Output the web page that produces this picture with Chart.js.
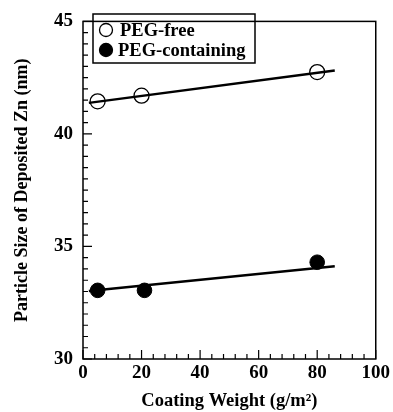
<!DOCTYPE html>
<html>
<head>
<meta charset="utf-8">
<script src="https://cdn.jsdelivr.net/npm/chart.js@4.4.1/dist/chart.umd.min.js"></script>
<style>
  html, body { margin: 0; padding: 0; background: #fff; }
  #wrap { width: 393px; height: 412px; position: relative; }
</style>
</head>
<body>
<div id="wrap"><canvas id="zincChart" width="393" height="412"></canvas></div>
<script>
// values
const coatingWeight = [5, 20, 80];
const coatingWeightB = [5, 21, 80];
const pegFree = [41.45, 41.7, 42.75];
const pegContaining = [33.05, 33.05, 34.3];

// straight fit lines as drawn in the figure (end points)
const fitX = [2, 86];
const pegFreeFit = [41.38, 42.82];
const pegContainingFit = [33.02, 34.12];

const seriesNames = ["PEG-free", "PEG-containing"];
const xTitle = "Coating Weight (g/m\u00B2)";
const yTitle = "Particle Size of Deposited Zn (nm)";

const serif = "'Liberation Serif', 'DejaVu Serif', serif";

function toPoints(xs, ys) {
    return xs.map((x, i) => ({ x: x, y: ys[i] }));
}

// inward ticks, top/right frame and the boxed legend
const framePlugin = {
    id: "frame",
    afterDatasetsDraw(chart) {
        const c = chart.ctx;
        const a = chart.chartArea;
        const xs = chart.scales.x;
        const ys = chart.scales.y;
        c.save();
        c.strokeStyle = "#000";
        c.lineWidth = 1.5;
        c.strokeRect(a.left, a.top, a.right - a.left, a.bottom - a.top);

        c.lineWidth = 1.2;
        c.beginPath();
        for (let v = 0; v <= 100; v += 4) {
            let px = xs.getPixelForValue(v);
            let len = v % 20 === 0 ? 9 : 5;
            c.moveTo(px, a.bottom);
            c.lineTo(px, a.bottom - len);
        }
        for (let v = 30; v <= 45; v += 0.5) {
            let py = ys.getPixelForValue(v);
            let len = v % 5 === 0 ? 9 : 5;
            c.moveTo(a.left, py);
            c.lineTo(a.left + len, py);
        }
        c.stroke();

        // legend box
        c.lineWidth = 1.5;
        c.strokeRect(93, 14, 162, 49);
        c.font = "bold 18.5px " + serif;
        c.fillStyle = "#000";
        c.textBaseline = "middle";
        c.textAlign = "left";
        seriesNames.forEach((name, i) => {
            let cy = 30 + i * 20;
            c.beginPath();
            c.arc(106, cy, 6.5, 0, Math.PI * 2);
            c.fillStyle = i === 0 ? "#fff" : "#000";
            c.fill();
            c.lineWidth = 1.3;
            c.strokeStyle = "#000";
            c.stroke();
            c.fillStyle = "#000";
            c.fillText(name, i === 0 ? 120 : 118, cy + 1);
        });
        c.restore();
    }
};

let ctx = document.getElementById("zincChart").getContext("2d");

let zincChart = new Chart(ctx, {
    type: "scatter",
    data: {
        datasets: [
            {
                label: "PEG-free fit",
                type: "line",
                data: toPoints(fitX, pegFreeFit),
                borderColor: "#000",
                borderWidth: 2.4,
                pointRadius: 0,
                fill: false
            },
            {
                label: "PEG-containing fit",
                type: "line",
                data: toPoints(fitX, pegContainingFit),
                borderColor: "#000",
                borderWidth: 2.4,
                pointRadius: 0,
                fill: false
            },
            {
                label: seriesNames[0],
                data: toPoints(coatingWeight, pegFree),
                pointRadius: 7.5,
                pointBackgroundColor: "#fff",
                pointBorderColor: "#000",
                pointBorderWidth: 1.3
            },
            {
                label: seriesNames[1],
                data: toPoints(coatingWeightB, pegContaining),
                pointRadius: 7.3,
                pointBackgroundColor: "#000",
                pointBorderColor: "#000",
                pointBorderWidth: 1
            }
        ]
    },
    options: {
        responsive: false,
        animation: false,
        layout: { padding: { top: 10, right: 16, left: 0, bottom: 0 } },
        plugins: {
            legend: { display: false },
            tooltip: { enabled: false }
        },
        scales: {
            x: {
                type: "linear",
                min: 0,
                max: 100,
                grid: { display: false, drawTicks: false },
                border: { display: false },
                ticks: {
                    stepSize: 20,
                    padding: 3,
                    color: "#000",
                    font: { family: serif, size: 19, weight: "bold" }
                },
                title: {
                    display: true,
                    text: xTitle,
                    color: "#000",
                    padding: { top: 0, bottom: 0 },
                    font: { family: serif, size: 18.5, weight: "bold" }
                },
                afterFit(scale) { scale.height = 53; }
            },
            y: {
                type: "linear",
                min: 30,
                max: 45,
                grid: { display: false, drawTicks: false },
                border: { display: false },
                ticks: {
                    stepSize: 5,
                    padding: 10,
                    color: "#000",
                    font: { family: serif, size: 19, weight: "bold" }
                },
                title: {
                    display: true,
                    text: yTitle,
                    color: "#000",
                    padding: { top: 12, bottom: 4 },
                    font: { family: serif, size: 18, weight: "bold" }
                },
                afterFit(scale) { scale.width = 83; }
            }
        }
    },
    plugins: [framePlugin]
});
</script>
</body>
</html>
